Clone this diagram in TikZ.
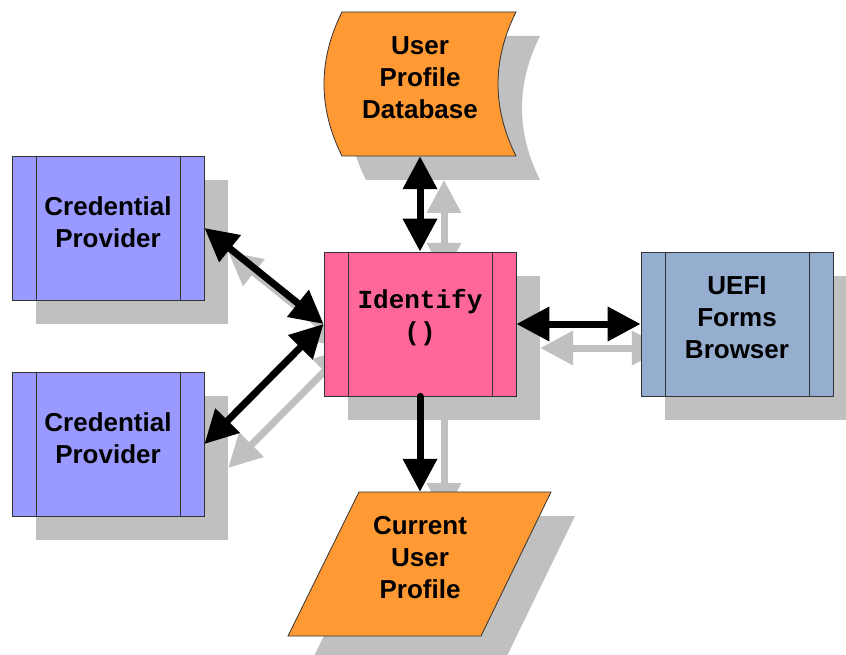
\documentclass[tikz,border=0pt]{standalone}
\usepackage{fontspec}
\setmainfont{Liberation Sans}
\setmonofont{Liberation Mono}
\usepackage{tikz}
\usetikzlibrary{arrows.meta,positioning,calc}
\definecolor{credblue}{HTML}{9999FF}
\definecolor{idpink}{HTML}{FF6699}
\definecolor{uefiblue}{HTML}{95ADCE}
\definecolor{dborange}{HTML}{FF9933}
\definecolor{shadowgray}{HTML}{C0C0C0}
\definecolor{rimgray}{HTML}{333333}
\begin{document}
\begin{tikzpicture}[x=1pt,y=-1pt,>={Triangle[length=33pt,width=33pt]},
  lbl/.style={align=center,inner sep=0pt,yshift=6pt,font=\bfseries\fontsize{26}{32}\selectfont},
  shp/.style={inner sep=0pt,minimum width=192pt,minimum height=144pt,label={[lbl]center:#1}},
  box/.style={shp={#1},draw=rimgray,line width=.8pt,
    path picture={\draw[rimgray,line width=.8pt]
      ([xshift=24pt]path picture bounding box.north west)--([xshift=24pt]path picture bounding box.south west)
      ([xshift=-24pt]path picture bounding box.north east)--([xshift=-24pt]path picture bounding box.south east);}},
  ghost/.style={fill=shadowgray,inner sep=0pt,minimum width=192pt,minimum height=144pt},
  biarr/.style={line width=7pt,<->},
  onearr/.style={line width=7pt,->,line cap=round}]
\useasboundingbox (0,0) rectangle (846,655);
% shadows, all shifted down right
\begin{scope}[shift={(24,24)}]
\node[ghost] (cp1s) at (108,228){};
\node[ghost] (cp2s) at (108,444){};
\node[ghost] (ids) at (420,324){};
\node[ghost] (uefis) at (737,324){};
\fill[shadowgray] (342,12) .. controls (318,60) and (318,108) .. (342,156) -- (516,156) .. controls (492,108) and (492,60) .. (516,12) -- cycle;
\fill[shadowgray] (359,492) -- (551,492) -- (481,636) -- (288,636) -- cycle;
\coordinate (dbs) at (420,156);
\coordinate (curs) at (420,492);
\draw[biarr,shadowgray] (dbs) -- (ids.north);
\draw[biarr,shadowgray] (cp1s.east) -- (ids.west);
\draw[biarr,shadowgray] (ids.west) -- (cp2s.east);
\draw[biarr,shadowgray] (ids.east) -- (uefis.west);
\draw[onearr,shadowgray] (ids.south) -- (curs);
\end{scope}
% database and profile outlines
\draw[rimgray,line width=.8pt,fill=dborange] (342,12) .. controls (318,60) and (318,108) .. (342,156) -- (516,156) .. controls (492,108) and (492,60) .. (516,12) -- cycle;
\draw[rimgray,line width=.8pt,fill=dborange] (359,492) -- (551,492) -- (481,636) -- (288,636) -- cycle;
% boxes
\node[box={Credential\\Provider},fill=credblue] (cp1) at (108,228){};
\node[box={Credential\\Provider},fill=credblue] (cp2) at (108,444){};
\node[box={\ttfamily Identify\\\ttfamily ()},fill=idpink] (ident) at (420,324){};
\node[box={UEFI\\Forms\\Browser},fill=uefiblue] (uefi) at (737,324){};
\node[shp={User\\Profile\\Database}] (db) at (420,84){};
\node[shp={Current\\User\\Profile}] (cur) at (420,564){};
% links
\draw[biarr] (db.south) -- (ident.north);
\draw[biarr] (cp1.east) -- (ident.west);
\draw[biarr] (ident.west) -- (cp2.east);
\draw[biarr] (ident.east) -- (uefi.west);
\draw[onearr] (ident.south) -- (cur.north);
\end{tikzpicture}
\end{document}
